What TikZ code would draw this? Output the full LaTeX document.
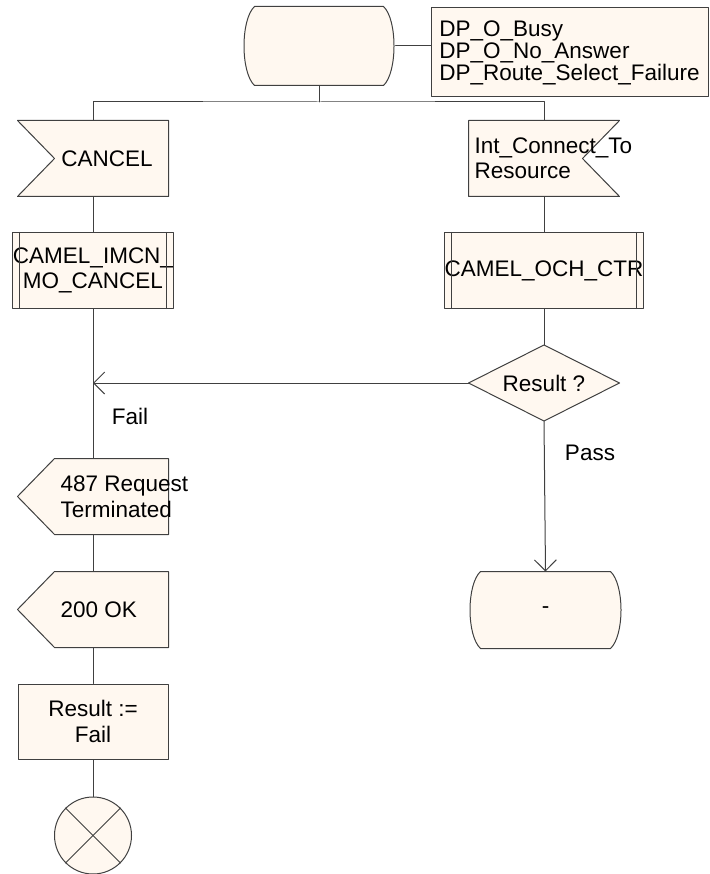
\documentclass[tikz,border=0pt]{standalone}
\usepackage{fontspec}
\setmainfont{Liberation Sans}
\usepackage{tikz}
\usetikzlibrary{arrows.meta}
\definecolor{sdlfill}{RGB}{255,248,240}
\definecolor{sdlline}{RGB}{64,64,64}
\begin{document}
\begin{tikzpicture}[line cap=round,line join=round,>={Straight Barb[length=11pt,width=22pt]},x=1pt,y=-1pt,
  color=sdlline,line width=1pt,every node/.style={text=black},
  sdlbox/.style={minimum width=150pt,minimum height=75pt,inner sep=0pt},
  sdlshape/.style={draw=sdlline,fill=sdlfill,line width=1pt},
  sdltext/.style={font=\fontsize{22.5}{25.5}\selectfont,inner sep=0pt}]
\useasboundingbox (0,0) rectangle (709,874);
\node[sdlbox,minimum width=152pt,minimum height=78pt] (idle) at (319,46) {};
\node[sdlshape,minimum width=277pt,minimum height=89pt,align=left,font=\fontsize{22.5}{22}\selectfont,inner sep=0pt] (dpcomment) at (569.5,52.5) {DP\_O\_Busy\\DP\_O\_No\_Answer\\DP\_Route\_Select\_Failure};
\node[sdlbox] (cancel) at (93,158.5) {};
\node[sdlbox] (intcon) at (544,158.5) {};
\node[sdlbox,sdlshape,sdltext,align=center] (imcn) at (93,270.5) {CAMEL\_IMCN\_\\MO\_CANCEL};
\node[sdlbox,sdlshape,sdltext] (och) at (544,270.5) {CAMEL\_OCH\_CTR};
\node[sdlbox] (result) at (544,383) {};
\node[sdlbox] (req) at (93,496.5) {};
\node[sdlbox] (ok) at (93,609.5) {};
\node[sdlbox,minimum width=153pt,minimum height=76pt] (dash) at (545.5,610) {};
\node[sdlbox,sdlshape,sdltext,align=center] (setfail) at (93,721.5) {Result :=\\Fail};
\node[circle,sdlshape,minimum size=77pt,inner sep=0pt] (stop) at (93,835.5) {};
\coordinate (fork) at (319,102);
\draw (idle.east) -- (idle.east -| dpcomment.west);
\draw (idle.south) -- (fork);
\draw (cancel.north) |- (fork) -| (intcon.north);
\draw (cancel.south) -- (imcn.north);
\draw (intcon.south) -- (och.north);
\draw (imcn.south) -- (req.north);
\draw (och.south) -- (result.north);
\draw[->] (result.west) -- (result.west -| imcn.south);
\draw[->] (result.south) -- (dash.north);
\draw (req.south) -- (ok.north);
\draw (ok.south) -- (setfail.north);
\draw (setfail.south) -- (stop.north);
\draw[sdlshape] ([xshift=12pt]idle.north west) -- ([xshift=-12pt]idle.north east) .. controls +(14,13) and +(14,-13) .. ([xshift=-12pt]idle.south east) -- ([xshift=12pt]idle.south west) .. controls +(-14,-13) and +(-14,13) .. ([xshift=12pt]idle.north west) -- cycle;
\draw[sdlshape] ([xshift=12pt]dash.north west) -- ([xshift=-12pt]dash.north east) .. controls +(14,13) and +(14,-13) .. ([xshift=-12pt]dash.south east) -- ([xshift=12pt]dash.south west) .. controls +(-14,-13) and +(-14,13) .. ([xshift=12pt]dash.north west) -- cycle;
\draw[sdlshape] (cancel.north west) -- (cancel.north east) -- (cancel.south east) -- (cancel.south west) -- ([xshift=37pt]cancel.west) -- cycle;
\draw[sdlshape] (intcon.north west) -- (intcon.north east) -- ([xshift=-37pt]intcon.east) -- (intcon.south east) -- (intcon.south west) -- cycle;
\draw[sdlshape] (result.north) -- (result.east) -- (result.south) -- (result.west) -- cycle;
\draw[sdlshape] (req.north east) -- (req.south east) -- ([xshift=37pt]req.south west) -- (req.west) -- ([xshift=37pt]req.north west) -- cycle;
\draw[sdlshape] (ok.north east) -- (ok.south east) -- ([xshift=37pt]ok.south west) -- (ok.west) -- ([xshift=37pt]ok.north west) -- cycle;
\draw ([xshift=7pt]imcn.north west) -- ([xshift=7pt]imcn.south west);
\draw ([xshift=-7pt]imcn.north east) -- ([xshift=-7pt]imcn.south east);
\draw ([xshift=7pt]och.north west) -- ([xshift=7pt]och.south west);
\draw ([xshift=-7pt]och.north east) -- ([xshift=-7pt]och.south east);
\draw (stop.north west) -- (stop.south east);
\draw (stop.north east) -- (stop.south west);
\node[sdltext] (canceltext) at ([xshift=14pt]cancel.center) {CANCEL};
\node[sdltext,anchor=west,align=left] (intcontext) at (474,158.5) {Int\_Connect\_To\\Resource};
\node[sdltext] (resulttext) at (result.center) {Result ?};
\node[sdltext,anchor=west,align=left] (reqtext) at (60,496.5) {487 Request\\Terminated};
\node[sdltext,anchor=west] (oktext) at (60,609.5) {200 OK};
\node[sdltext] (dashtext) at (dash.center) {-};
\node[sdltext] (failtext) at (130,416) {Fail};
\node[sdltext] (passtext) at (590,453) {Pass};
\end{tikzpicture}
\end{document}
